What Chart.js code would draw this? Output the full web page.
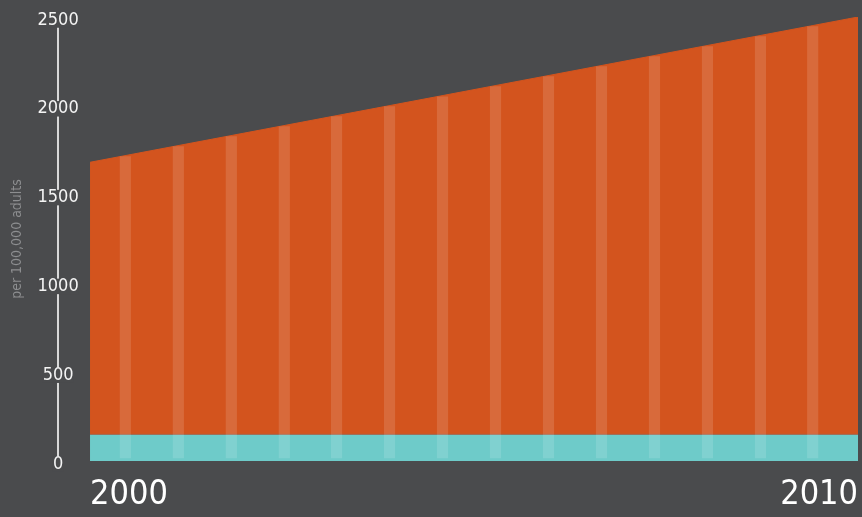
<!DOCTYPE html>
<html>
<head>
<meta charset="utf-8">
<script src="https://cdn.jsdelivr.net/npm/chart.js@4"></script>
<style>
  html, body { margin: 0; padding: 0; background: #4a4b4d; }
  #wrap { width: 862px; height: 517px; position: relative; }
</style>
</head>
<body>
<div id="wrap"><canvas id="chart"></canvas></div>
<script>
// values
const years = [2000, 2010];
const baseRate = [150, 150];          // teal band
const totalRate = [1682, 2500];       // top of the orange area
const yTicks = [0, 500, 1000, 1500, 2000, 2500];

// light vertical stripes (x in years, top value at that x)
const stripeX = [2000.46, 2001.15, 2001.84, 2002.53, 2003.21, 2003.90, 2004.59,
                 2005.28, 2005.97, 2006.66, 2007.35, 2008.04, 2008.73, 2009.41];
const stripeTop = [1714, 1770, 1826, 1883, 1939, 1995, 2051,
                   2108, 2164, 2221, 2277, 2334, 2390, 2446];
const stripeBottom = 17;

const bg = '#4a4b4d';
const narrow = "'Liberation Sans Narrow', 'DejaVu Sans Condensed', 'Roboto Condensed', sans-serif";

const data = {
    datasets: [{
        label: 'base',
        data: years.map((x, i) => ({ x: x, y: baseRate[i] })),
        backgroundColor: '#6ecbc9',
        borderColor: '#a7664c',
        borderWidth: 1,
        pointRadius: 0,
        fill: 'origin',
        order: 1
    }, {
        label: 'total',
        data: years.map((x, i) => ({ x: x, y: totalRate[i] })),
        backgroundColor: '#d3541e',
        borderColor: '#d3541e',
        borderWidth: 1,
        pointRadius: 0,
        fill: '-1',
        order: 2
    }, {
        type: 'bar',
        label: 'stripes',
        data: stripeX.map((x, i) => ({ x: x, y: [stripeBottom, stripeTop[i]] })),
        backgroundColor: 'rgba(255,255,255,0.13)',
        borderWidth: 0,
        barThickness: 10.5,
        order: 0
    }]
};

const config = {
    type: 'line',
    data: data,
    options: {
        responsive: true,
        maintainAspectRatio: false,
        animation: false,
        layout: { padding: { top: 17, right: 4, bottom: 0, left: 0 } },
        plugins: {
            legend: { display: false },
            tooltip: { enabled: false }
        },
        scales: {
            x: {
                type: 'linear',
                min: 1999.583,
                max: 2010,
                offset: false,
                afterBuildTicks: function(scale) {
                    scale.ticks = years.map(v => ({ value: v }));
                },
                afterFit: function(scale) {
                    scale.height = 56;
                    scale.paddingLeft = 0;
                    scale.paddingRight = 0;
                },
                grid: { display: false, drawTicks: false },
                border: { display: false },
                ticks: {
                    align: 'inner',
                    padding: 14,
                    color: '#ffffff',
                    font: { family: narrow, size: 34 },
                    callback: function(value) { return String(value); }
                }
            },
            y: {
                min: 0,
                max: 2500,
                afterBuildTicks: function(scale) {
                    scale.ticks = yTicks.map(v => ({ value: v }));
                },
                afterFit: function(scale) { scale.width = 58; },
                grid: { display: false, drawTicks: false },
                border: { display: true, color: '#d8d8d8', width: 2 },
                title: {
                    display: true,
                    text: 'per 100,000 adults',
                    color: '#8d8e90',
                    font: { family: narrow, size: 14 },
                    padding: { top: 9, bottom: 0 }
                },
                ticks: {
                    mirror: true,
                    crossAlign: 'center',
                    padding: -20.5,
                    labelOffset: 3,
                    color: '#f4f4f4',
                    font: { family: narrow, size: 18, lineHeight: 0.75 },
                    showLabelBackdrop: true,
                    backdropColor: bg,
                    backdropPadding: { top: 1, bottom: 1, left: 0, right: 0 },
                    callback: function(value) { return String(value); }
                }
            }
        }
    }
};

new Chart(document.getElementById('chart'), config);
</script>
</body>
</html>
